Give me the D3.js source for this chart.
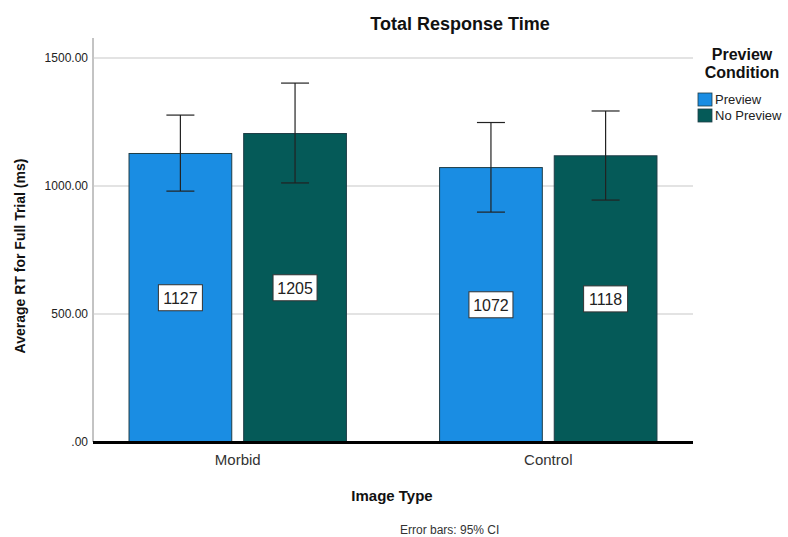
<!DOCTYPE html>
<html>
<head>
<meta charset="utf-8">
<script src="https://cdn.jsdelivr.net/npm/d3@7"></script>
<style>
  html, body { margin: 0; padding: 0; background: #fff; }
  svg { display: block; font-family: Arial, "Liberation Sans", sans-serif; }
</style>
</head>
<body>
<svg id="chart" width="788" height="537"></svg>
<script>
// Mean total response time by image type and preview condition
const imageTypes = ["Morbid", "Control"];
const conditions = ["Preview", "No Preview"];
const meanRT = [
  [1127, 1205],   // Morbid: Preview, No Preview
  [1072, 1118]    // Control: Preview, No Preview
];
const ciLow = [
  [980, 1012],
  [898, 945]
];
const ciHigh = [
  [1277, 1402],
  [1248, 1293]
];
const yTicks = [0, 500, 1000, 1500];
const colors = ["#1a8de3", "#055a58"];

const svg = d3.select("#chart");
const W = 788;
const x0 = 93, x1 = 693;
const yBottom = 442;

const y = d3.scaleLinear().domain([0, 1500]).range([yBottom, 58]);
const xGroup = d3.scaleBand().domain(imageTypes).range([x0, x1]).paddingInner(0.3).paddingOuter(0.116);
const xSub = d3.scaleBand().domain(conditions).range([0, xGroup.bandwidth()]).paddingInner(0.104);

// Left axis line
svg.append("line")
  .attr("x1", x0).attr("x2", x0)
  .attr("y1", 38).attr("y2", yBottom)
  .attr("stroke", "#888").attr("stroke-width", 1);

// Gridlines
svg.append("g").selectAll("line").data(yTicks.filter(d => d > 0)).join("line")
  .attr("x1", x0).attr("x2", x1)
  .attr("y1", d => y(d)).attr("y2", d => y(d))
  .attr("stroke", "#c8c8c8").attr("stroke-width", 1.2);

// Y tick labels
const yAxis = d3.axisLeft(y).tickValues(yTicks).tickSize(0).tickPadding(5)
  .tickFormat(d => d === 0 ? ".00" : d3.format(".2f")(d));
const gy = svg.append("g").attr("transform", `translate(${x0},0)`).call(yAxis);
gy.select(".domain").remove();
gy.selectAll("text").attr("font-size", 12).attr("fill", "#222")
  .attr("font-family", "Arial, 'Liberation Sans', sans-serif");

// Bars
const groups = svg.append("g").selectAll("g").data(imageTypes).join("g")
  .attr("transform", d => `translate(${xGroup(d)},0)`);

groups.each(function(type, gi) {
  const g = d3.select(this);
  conditions.forEach((cond, ci) => {
    const v = meanRT[gi][ci];
    const bx = xSub(cond);
    const bw = xSub.bandwidth();
    g.append("rect")
      .attr("x", bx).attr("y", y(v))
      .attr("width", bw).attr("height", yBottom - y(v))
      .attr("fill", colors[ci])
      .attr("stroke", "#1e3c46").attr("stroke-width", 1);

    // Error bar (95% CI)
    const cx = bx + bw / 2;
    const cap = 14;
    g.append("line").attr("x1", cx).attr("x2", cx)
      .attr("y1", y(ciHigh[gi][ci])).attr("y2", y(ciLow[gi][ci]))
      .attr("stroke", "#222").attr("stroke-width", 1.2);
    [ciHigh[gi][ci], ciLow[gi][ci]].forEach(val => {
      g.append("line").attr("x1", cx - cap).attr("x2", cx + cap)
        .attr("y1", y(val)).attr("y2", y(val))
        .attr("stroke", "#222").attr("stroke-width", 1.2);
    });

    // Value label box at half bar height
    const ly = y(v / 2);
    g.append("rect")
      .attr("x", cx - 22).attr("y", ly - 13)
      .attr("width", 44).attr("height", 26)
      .attr("fill", "#fff").attr("stroke", "#333").attr("stroke-width", 1);
    g.append("text")
      .attr("x", cx).attr("y", ly + 6)
      .attr("text-anchor", "middle")
      .attr("font-size", 16).attr("fill", "#222")
      .text(v);
  });
});

// Baseline
svg.append("line")
  .attr("x1", x0).attr("x2", x1)
  .attr("y1", yBottom + 0.5).attr("y2", yBottom + 0.5)
  .attr("stroke", "#000").attr("stroke-width", 3);

// X category labels
const xAxis = d3.axisBottom(xGroup).tickSize(0).tickPadding(12);
const gx = svg.append("g").attr("transform", `translate(0,${yBottom})`).call(xAxis);
gx.select(".domain").remove();
gx.selectAll("text").attr("font-size", 15).attr("fill", "#333")
  .attr("font-family", "Arial, 'Liberation Sans', sans-serif");

// Titles
svg.append("text").attr("x", 460).attr("y", 30).attr("text-anchor", "middle")
  .attr("font-size", 18).attr("font-weight", "bold").attr("fill", "#111")
  .text("Total Response Time");

svg.append("text").attr("x", 392).attr("y", 501).attr("text-anchor", "middle")
  .attr("font-size", 15).attr("font-weight", "bold").attr("fill", "#111")
  .text("Image Type");

svg.append("text")
  .attr("transform", "translate(25,256) rotate(-90)")
  .attr("text-anchor", "middle")
  .attr("font-size", 14).attr("font-weight", "bold").attr("fill", "#111")
  .text("Average RT for Full Trial (ms)");

svg.append("text").attr("x", 400).attr("y", 534)
  .attr("font-size", 12).attr("fill", "#333")
  .text("Error bars: 95% CI");

// Legend
const legend = svg.append("g");
legend.append("text").attr("x", 742).attr("y", 60).attr("text-anchor", "middle")
  .attr("font-size", 16).attr("font-weight", "bold").attr("fill", "#111")
  .text("Preview");
legend.append("text").attr("x", 742).attr("y", 78).attr("text-anchor", "middle")
  .attr("font-size", 16).attr("font-weight", "bold").attr("fill", "#111")
  .text("Condition");
conditions.forEach((c, i) => {
  const ly = 93 + i * 16;
  legend.append("rect").attr("x", 698).attr("y", ly)
    .attr("width", 14).attr("height", 13)
    .attr("fill", colors[i]).attr("stroke", "#1e3c46").attr("stroke-width", 0.8);
  legend.append("text").attr("x", 715).attr("y", ly + 11)
    .attr("font-size", 13).attr("fill", "#222")
    .text(c);
});
</script>
</body>
</html>
